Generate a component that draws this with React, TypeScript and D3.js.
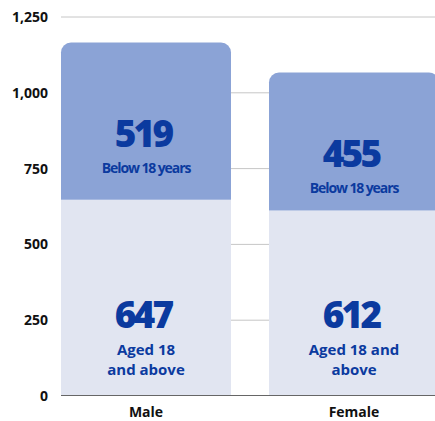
import React from 'react';
import * as d3 from 'd3';

const categories = ['Male', 'Female'];
const adultValues = [647, 612];
const minorValues = [519, 455];
const yTicks = [0, 250, 500, 750, 1000, 1250];
const minorLabel = 'Below 18 years';
const adultLabelLines = [
  ['Aged 18', 'and above'],
  ['Aged 18 and', 'above'],
];

const W = 435;
const H = 421;
const TOP_COLOR = '#8ba3d6';
const BOTTOM_COLOR = '#e1e5f1';
const TEXT_BLUE = '#0b3a9f';
const FONT = '"Open Sans", "Noto Sans", sans-serif';

export default function App() {
  const y = d3.scaleLinear().domain([0, 1250]).range([396, 17]);
  const x = d3.scaleBand<string>()
    .domain(categories)
    .range([61, 439])
    .paddingInner(38 / 208)
    .paddingOuter(0);
  const bw = x.bandwidth();
  const fmt = d3.format(',');

  // bar top with rounded upper corners
  const topPath = (x0: number, y0: number, y1: number, w: number, r: number) => {
    const p = d3.path();
    p.moveTo(x0, y1);
    p.lineTo(x0, y0 + r);
    p.arcTo(x0, y0, x0 + r, y0, r);
    p.lineTo(x0 + w - r, y0);
    p.arcTo(x0 + w, y0, x0 + w, y0 + r, r);
    p.lineTo(x0 + w, y1);
    p.closePath();
    return p.toString();
  };

  return (
    <svg
      width={W}
      height={H}
      style={{ position: 'absolute', left: 0, top: 0, display: 'block' }}
      fontFamily={FONT}
    >
      {yTicks.filter(t => t > 0).map(t => (
        <line key={'g' + t} x1={61} x2={W} y1={y(t)} y2={y(t)} stroke="#c6c6c6" strokeWidth={1} />
      ))}
      <line x1={61} x2={W} y1={y(0) - 0.5} y2={y(0) - 0.5} stroke="#666" strokeWidth={1} />
      {yTicks.map(t => (
        <text key={'t' + t} x={48} y={y(t) + 5} textAnchor="end" fontSize={14} fontWeight={700} fill="#111">
          {fmt(t)}
        </text>
      ))}

      {categories.map((c, i) => {
        const x0 = x(c) as number;
        const cx = x0 + bw / 2;
        const yMid = y(adultValues[i]);
        const yTop = y(adultValues[i] + minorValues[i]);
        const segCenter = (yTop + yMid) / 2;
        return (
          <g key={c}>
            <rect x={x0} y={yMid} width={bw} height={y(0) - yMid - 1} fill={BOTTOM_COLOR} />
            <path d={topPath(x0, yTop, yMid, bw, 10)} fill={TOP_COLOR} />

            <text x={cx - 3} y={segCenter + 26} textAnchor="middle" fontSize={37} fontWeight={800}
              letterSpacing={-2.8} fill={TEXT_BLUE}>
              {minorValues[i]}
            </text>
            <text x={cx} y={segCenter + 52} textAnchor="middle" fontSize={14} fontWeight={700}
              letterSpacing={-1.1} fill={TEXT_BLUE}>
              {minorLabel}
            </text>

            <text x={cx - 3} y={328} textAnchor="middle" fontSize={37} fontWeight={800}
              letterSpacing={-2.8} fill={TEXT_BLUE}>
              {adultValues[i]}
            </text>
            {adultLabelLines[i].map((ln, j) => (
              <text key={j} x={cx} y={354.5 + j * 20.5} textAnchor="middle" fontSize={15} fontWeight={700}
                fill={TEXT_BLUE}>
                {ln}
              </text>
            ))}

            <text x={cx} y={417} textAnchor="middle" fontSize={14} fontWeight={700} fill="#111">
              {c}
            </text>
          </g>
        );
      })}
    </svg>
  );
}
